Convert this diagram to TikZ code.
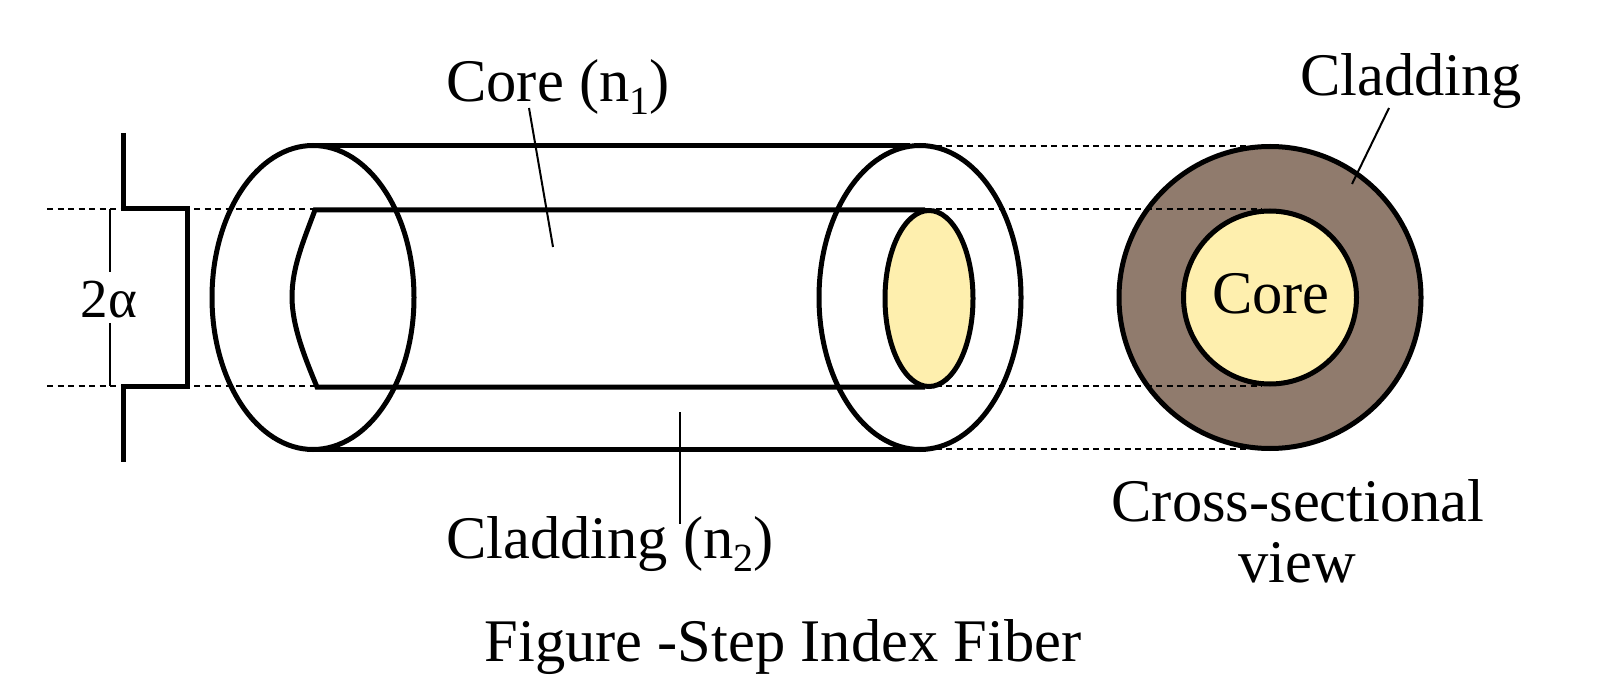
\documentclass[tikz,border=0pt]{standalone}
\usepackage{fontspec}
\setmainfont{Liberation Serif}
\newcommand{\lowidx}[1]{\raisebox{-13pt}{\fontsize{40}{40}\selectfont #1}}
\tikzset{
  heavy/.style={draw=black,line width=5pt,line join=miter},
  thinrule/.style={draw=black,line width=2pt},
  dash line/.style={draw=black,line width=2.6pt,dash pattern=on 6pt off 4.5pt},
  lbl/.style={inner sep=0pt,font=\fontsize{60.5}{70}\selectfont,text=black,align=center},
}
\definecolor{corefill}{HTML}{FEEFAE}
\definecolor{cladfill}{HTML}{907B6D}
\begin{document}
\begin{tikzpicture}[x=1pt,y=-1pt]
\useasboundingbox (0,0) rectangle (1600,700);
\fill[white] (0,0) rectangle (1600,700);
% cross-section
\path[heavy,fill=cladfill] (1270,297.5) circle[radius=151];
\foreach \yy/\xe in {146/1250,209/1262,386/1262,449/1250}{
  \coordinate (dl\yy) at (925,\yy); \coordinate (dr\yy) at (\xe,\yy);
  \draw[dash line] (dl\yy) -- (dr\yy);
}
\path[heavy,fill=corefill] (1270,297.5) circle[radius=86.5];
% left dashes
\coordinate (a1) at (47,209); \coordinate (a2) at (315,209);
\coordinate (b1) at (47,386); \coordinate (b2) at (317,386);
\draw[dash line] (a1) -- (a2);
\draw[dash line] (b1) -- (b2);
% bracket
\coordinate (p1) at (123,133); \coordinate (p2) at (123,209); \coordinate (p3) at (187,209);
\coordinate (p4) at (187,386); \coordinate (p5) at (123,386); \coordinate (p6) at (123,462);
\draw[heavy] (p1) -- (p2) -- (p3) -- (p4) -- (p5) -- (p6);
\node[lbl,font=\fontsize{55}{60}\selectfont] (alpha) at (109,300) {2α};
\coordinate (t1) at (110,209); \coordinate (t2) at (110,272);
\coordinate (t3) at (110,323); \coordinate (t4) at (110,386);
\draw[thinrule] (t1) -- (t2);
\draw[thinrule] (t3) -- (t4);
% fibre
\path[heavy] (313,297.5) ellipse[x radius=101,y radius=152];
\path[heavy] (920,297.5) ellipse[x radius=101,y radius=152];
\coordinate (c1) at (313,146); \coordinate (c2) at (910,146);
\coordinate (c3) at (313,449); \coordinate (c4) at (920,449);
\coordinate (c5) at (315,210); \coordinate (c6) at (925,210);
\coordinate (c7) at (317,387); \coordinate (c8) at (925,387);
\draw[heavy] (c1) -- (c2);
\draw[heavy] (c3) -- (c4);
\draw[heavy] (c6) -- (c5) .. controls (303,242) and (292,268) .. (292,297) .. controls (292,326) and (305,358) .. (c7) -- (c8);
\path[heavy,fill=corefill] (929,298.5) ellipse[x radius=44,y radius=88];
% labels
\node[lbl,anchor=base] (core) at (558,102) {Core (n\lowidx{1})};
\node[lbl,anchor=base] (clad) at (610,558) {Cladding (n\lowidx{2})};
\node[lbl] (cladr) at (1411,81) {Cladding};
\node[lbl] (corec) at (1271,294) {Core};
\node[lbl] (cross) at (1298,501) {Cross-sectional};
\node[lbl] (view) at (1297,563) {view};
\node[lbl] (title) at (783,647) {Figure -Step Index Fiber};
% leaders
\coordinate (l1) at (529,108); \coordinate (l2) at (553,247);
\coordinate (l3) at (680,412); \coordinate (l4) at (680,524);
\coordinate (l5) at (1389,108); \coordinate (l6) at (1352,184);
\draw[thinrule] (l1) -- (l2);
\draw[thinrule] (l3) -- (l4);
\draw[thinrule] (l5) -- (l6);
\end{tikzpicture}
\end{document}
